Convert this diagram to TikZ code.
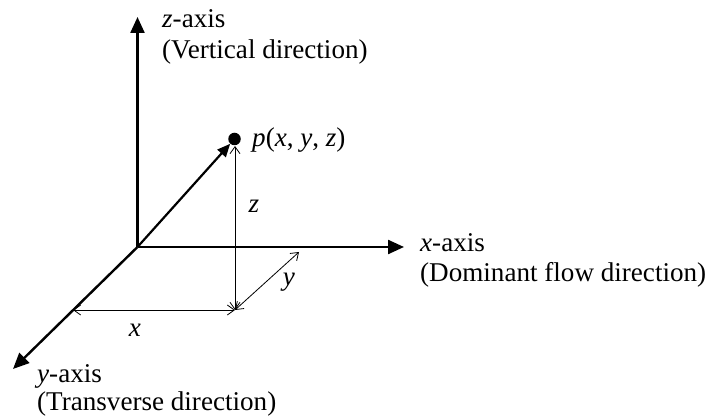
\documentclass[tikz,border=0pt]{standalone}
\usepackage{fontspec}
\setmainfont{Liberation Serif}
\usetikzlibrary{arrows.meta}
\begin{document}
\begin{tikzpicture}[x=1pt,y=-1pt,
  axis/.style={line width=2.4pt,-{Triangle[length=16pt,width=14pt]}},
  vec/.style={line width=2.2pt,-{Triangle[length=13pt,width=11pt]}},
  dim/.style={line width=0.8pt,{Straight Barb[length=7pt,width=10pt]}-{Straight Barb[length=7pt,width=10pt]}},
  lbl/.style={font=\fontsize{27.1}{30}\selectfont,inner sep=0pt,anchor=base west},
  sym/.style={font=\fontsize{27.1}{30}\selectfont,inner sep=0pt,anchor=base}]
\useasboundingbox (0,0) rectangle (707,419);
\coordinate (O) at (137.5,247);
\coordinate (Ztip) at (137.5,17);
\coordinate (Xtip) at (404,247);
\coordinate (Ytip) at (13,369);
\coordinate (G) at (235,310);
\coordinate (Xl) at (73,310);
\coordinate (Yu) at (299,252);
\node[circle,fill=black,inner sep=0pt,minimum size=12.5pt] (P) at (234.5,139) {};
\draw[axis] (O) -- (Ztip);
\draw[axis] (O) -- (Xtip);
\draw[axis] (O) -- (Ytip);
\draw[vec] (O) -- (P);
\draw[dim] (G) -- (235,146);
\draw[dim] (Xl) -- (G);
\draw[dim] (G) -- (Yu);
\node[lbl] (zl1) at (162,28) {\textit{z}-axis};
\node[lbl] (zl2) at (162,59) {(Vertical direction)};
\node[lbl] (xl1) at (420,252) {\textit{x}-axis};
\node[lbl] (xl2) at (420,282) {(Dominant flow direction)};
\node[lbl] (yl1) at (37,383) {\textit{y}-axis};
\node[lbl] (yl2) at (37,411) {(Transverse direction)};
\node[lbl] (pl) at (252,147) {\textit{p}(\textit{x}, \textit{y}, \textit{z})};
\node[sym] (xs) at (135,337) {\textit{x}};
\node[sym] (ys) at (289,286) {\textit{y}};
\node[sym] (zs) at (254,213) {\textit{z}};
\end{tikzpicture}
\end{document}
